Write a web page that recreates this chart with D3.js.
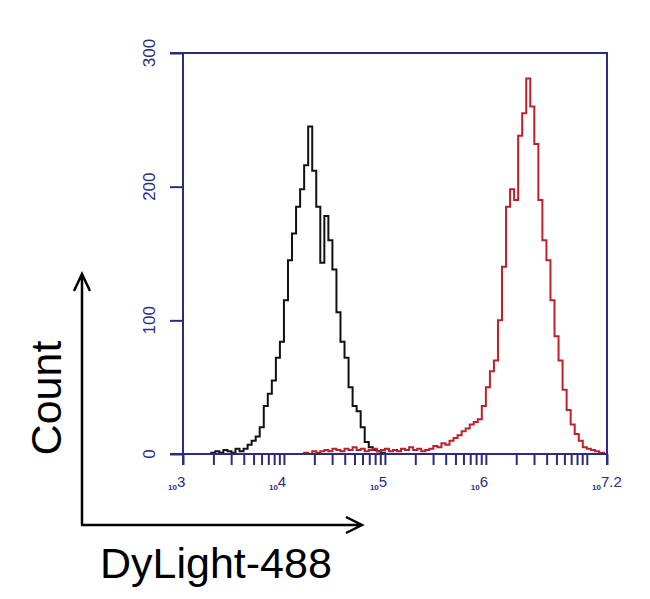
<!DOCTYPE html>
<html>
<head>
<meta charset="utf-8">
<script src="https://cdn.jsdelivr.net/npm/d3@7"></script>
<style>
  body { margin: 0; background: #fff; }
  text { font-family: "Liberation Sans", Arial, sans-serif; }
</style>
</head>
<body>
<div id="chart"></div>
<script>
/* Flow histogram: DyLight-488 intensity, control (black) vs stained (red) */

// channel centres, in log10 of intensity (0.04 decade bins)
const channels = [
  3.02, 3.06, 3.10, 3.14, 3.18, 3.22, 3.26, 3.30, 3.34, 3.38,
  3.42, 3.46, 3.50, 3.54, 3.58, 3.62, 3.66, 3.70, 3.74, 3.78,
  3.82, 3.86, 3.90, 3.94, 3.98, 4.02, 4.06, 4.10, 4.14, 4.18,
  4.22, 4.26, 4.30, 4.34, 4.38, 4.42, 4.46, 4.50, 4.54, 4.58,
  4.62, 4.66, 4.70, 4.74, 4.78, 4.82, 4.86, 4.90, 4.94, 4.98,
  5.02, 5.06, 5.10, 5.14, 5.18, 5.22, 5.26, 5.30, 5.34, 5.38,
  5.42, 5.46, 5.50, 5.54, 5.58, 5.62, 5.66, 5.70, 5.74, 5.78,
  5.82, 5.86, 5.90, 5.94, 5.98, 6.02, 6.06, 6.10, 6.14, 6.18,
  6.22, 6.26, 6.30, 6.34, 6.38, 6.42, 6.46, 6.50, 6.54, 6.58,
  6.62, 6.66, 6.70, 6.74, 6.78, 6.82, 6.86, 6.90, 6.94, 6.98,
  7.02, 7.06, 7.10, 7.14, 7.18
];

// control (unstained / isotype)
const controlCounts = [
  0, 0, 0, 0, 0, 0, 0, 1, 2, 1,
  3, 2, 1, 4, 2, 4, 7, 10, 13, 20,
  36, 45, 55, 72, 84, 115, 145, 165, 185, 198,
  216, 245, 212, 185, 143, 178, 160, 138, 106, 84,
  72, 50, 36, 32, 20, 9, 5, 3, 2, 1,
  0, 0, 0, 0, 0, 0, 0, 0, 0, 0,
  0, 0, 0, 0, 0, 0, 0, 0, 0, 0,
  0, 0, 0, 0, 0, 0, 0, 0, 0, 0,
  0, 0, 0, 0, 0, 0, 0, 0, 0, 0,
  0, 0, 0, 0, 0, 0, 0, 0, 0, 0,
  0, 0, 0, 0, 0
];

// stained sample
const stainedCounts = [
  0, 0, 0, 0, 0, 0, 0, 0, 0, 0,
  0, 0, 0, 0, 0, 0, 0, 0, 0, 0,
  0, 0, 0, 0, 0, 0, 0, 0, 0, 0,
  1, 0, 2, 1, 2, 3, 2, 4, 3, 2,
  4, 3, 5, 3, 4, 2, 3, 4, 2, 3,
  4, 2, 3, 2, 4, 3, 5, 3, 4, 2,
  3, 4, 6, 5, 8, 7, 10, 12, 14, 17,
  19, 22, 24, 26, 36, 50, 62, 70, 100, 140,
  185, 198, 190, 238, 255, 281, 260, 232, 190, 160,
  145, 115, 88, 70, 48, 33, 22, 15, 10, 5,
  4, 3, 2, 1, 1
];

const yTicks = [0, 100, 200, 300];
const xMajor = [3, 4, 5, 6, 7.2];          // log10 positions that get a label
const xMajorLabels = ["3", "4", "5", "6", "7.2"];

const width = 650, height = 599;
const navy = "#2b2b80";

const svg = d3.select("#chart")
    .append("svg")
    .attr("width", width)
    .attr("height", height);

let x = d3.scaleLog()
    .domain([1e3, Math.pow(10, 7.2)])
    .range([183, 607]);

let y = d3.scaleLinear()
    .domain([0, 300])
    .range([454, 53]);

// histograms first, axes drawn over them
const hist = d3.line()
    .x(d => x(Math.pow(10, d[0])))
    .y(d => y(d[1]))
    .curve(d3.curveStep);

svg.append("path")
    .datum(d3.zip(channels, controlCounts))
    .attr("fill", "none")
    .attr("stroke", "#111")
    .attr("stroke-width", 2)
    .attr("d", hist);

svg.append("path")
    .datum(d3.zip(channels, stainedCounts))
    .attr("fill", "none")
    .attr("stroke", "#bb2228")
    .attr("stroke-width", 2)
    .attr("d", hist);

// bottom ticks (every 1..9 x 10^k plus the right edge)
const xTickVals = x.ticks().concat([Math.pow(10, 7.2)]);
svg.append("g")
    .attr("transform", `translate(0,${y(0)})`)
    .call(d3.axisBottom(x).tickValues(xTickVals).tickSize(11).tickFormat(""))
    .call(g => g.select(".domain").remove())
    .call(g => g.selectAll(".tick line").attr("stroke", navy).attr("stroke-width", 2));

svg.append("g")
    .attr("transform", `translate(${x.range()[0]},0)`)
    .call(d3.axisLeft(y).tickValues(yTicks).tickSize(13).tickFormat(""))
    .call(g => g.select(".domain").remove())
    .call(g => g.selectAll(".tick line").attr("stroke", navy).attr("stroke-width", 2));

// frame
const [x0, x1] = x.range();
const frame = svg.append("g")
    .attr("stroke", navy)
    .attr("stroke-width", 2)
    .attr("fill", "none");
frame.append("line").attr("x1", x0).attr("x2", x0).attr("y1", y(300)).attr("y2", y(0) + 11);
frame.append("line").attr("x1", x0 - 13).attr("x2", x1 + 1).attr("y1", y(300)).attr("y2", y(300));
frame.append("line").attr("x1", x0 - 13).attr("x2", x1).attr("y1", y(0)).attr("y2", y(0));
frame.append("line").attr("x1", x1).attr("x2", x1).attr("y1", y(300)).attr("y2", y(0) + 11);

// y labels, rotated
svg.selectAll(".ylab")
    .data(yTicks)
    .join("text")
    .attr("class", "ylab")
    .attr("transform", d => `translate(155,${y(d)}) rotate(-90)`)
    .attr("text-anchor", "middle")
    .attr("font-size", 17)
    .attr("fill", navy)
    .text(d => d);

// x labels: small "10" with the exponent beside it
const xl = svg.selectAll(".xlab")
    .data(xMajor)
    .join("text")
    .attr("class", "xlab")
    .attr("x", d => x(Math.pow(10, d)) - 15)
    .attr("y", 490)
    .attr("fill", navy);
xl.append("tspan")
    .attr("font-size", 8)
    .attr("font-weight", "bold")
    .text("10");
xl.append("tspan")
    .attr("font-size", 15)
    .attr("dy", -3)
    .text((d, i) => xMajorLabels[i]);

// arrows and big titles
const arrows = svg.append("g")
    .attr("stroke", "#000")
    .attr("stroke-width", 2.5)
    .attr("fill", "none");
arrows.append("path").attr("d", "M82,525 V274 M74,291 L82,274 L90,291");
arrows.append("path").attr("d", "M81,525 H362 M346,517 L362,525 L346,533");

svg.append("text")
    .attr("transform", "translate(61,398) rotate(-90)")
    .attr("text-anchor", "middle")
    .attr("font-size", 43)
    .attr("fill", "#000")
    .text("Count");

svg.append("text")
    .attr("x", 100)
    .attr("y", 578)
    .attr("font-size", 43)
    .attr("fill", "#000")
    .text("DyLight-488");
</script>
</body>
</html>
